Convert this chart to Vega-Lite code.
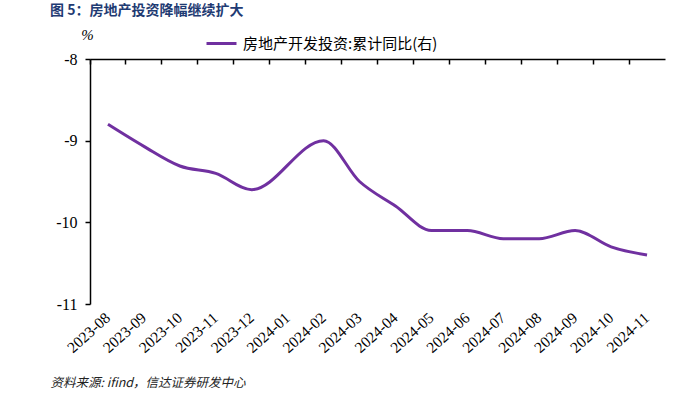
{
  "$schema": "https://vega.github.io/schema/vega-lite/v6.json",
  "width": 575,
  "height": 245,
  "autosize": {"type": "none"},
  "padding": {"left": 90, "top": 59, "right": 16, "bottom": 94},
  "title": {
    "text": "图 5：房地产投资降幅继续扩大",
    "anchor": "start",
    "frame": "group",
    "dx": -40,
    "offset": 9,
    "font": "Noto Sans CJK SC",
    "fontSize": 14,
    "fontWeight": "bold",
    "color": "#1F3B73"
  },
  "config": {
    "view": {"stroke": null},
    "font": "Times New Roman, Liberation Serif, serif"
  },
  "data": {
    "values": [
      {"month": "2023-08", "value": -8.8, "series": "房地产开发投资:累计同比(右)"},
      {"month": "2023-09", "value": -9.07, "series": "房地产开发投资:累计同比(右)"},
      {"month": "2023-10", "value": -9.31, "series": "房地产开发投资:累计同比(右)"},
      {"month": "2023-11", "value": -9.4, "series": "房地产开发投资:累计同比(右)"},
      {"month": "2023-12", "value": -9.6, "series": "房地产开发投资:累计同比(右)"},
      {"month": "2024-02", "value": -9.0, "series": "房地产开发投资:累计同比(右)"},
      {"month": "2024-03", "value": -9.5, "series": "房地产开发投资:累计同比(右)"},
      {"month": "2024-04", "value": -9.8, "series": "房地产开发投资:累计同比(右)"},
      {"month": "2024-05", "value": -10.1, "series": "房地产开发投资:累计同比(右)"},
      {"month": "2024-06", "value": -10.1, "series": "房地产开发投资:累计同比(右)"},
      {"month": "2024-07", "value": -10.2, "series": "房地产开发投资:累计同比(右)"},
      {"month": "2024-08", "value": -10.2, "series": "房地产开发投资:累计同比(右)"},
      {"month": "2024-09", "value": -10.1, "series": "房地产开发投资:累计同比(右)"},
      {"month": "2024-10", "value": -10.3, "series": "房地产开发投资:累计同比(右)"},
      {"month": "2024-11", "value": -10.4, "series": "房地产开发投资:累计同比(右)"}
    ]
  },
  "resolve": {"axis": {"x": "independent"}},
  "layer": [
    {
      "mark": {"type": "line", "interpolate": "monotone", "strokeWidth": 3},
      "encoding": {
        "x": {
          "field": "month",
          "type": "ordinal",
          "scale": {
            "type": "band",
            "paddingInner": 0,
            "paddingOuter": 0,
            "domain": ["2023-08","2023-09","2023-10","2023-11","2023-12","2024-01","2024-02","2024-03","2024-04","2024-05","2024-06","2024-07","2024-08","2024-09","2024-10","2024-11"]
          },
          "axis": {
            "orient": "bottom",
            "domain": false,
            "ticks": false,
            "labelAngle": -42,
            "labelAlign": "right",
            "labelBaseline": "middle",
            "labelFont": "Times New Roman, Liberation Serif, serif",
            "labelFontSize": 15.5,
            "labelColor": "#000",
            "labelPadding": 11,
            "offset": 0,
            "title": "资料来源: ifind，信达证券研发中心",
            "titleFont": "Noto Sans CJK SC",
            "titleFontSize": 12.5,
            "titleFontStyle": "italic",
            "titleFontWeight": "normal",
            "titleColor": "#222",
            "titleAlign": "left",
            "titleBaseline": "middle",
            "titleAngle": 0,
            "titleX": -40,
            "titleY": 78
          }
        },
        "y": {
          "field": "value",
          "type": "quantitative",
          "scale": {"domain": [-11, -8], "nice": false, "zero": false},
          "axis": {
            "values": [-8, -9, -10, -11],
            "labelExpr": "'-' + toString(abs(datum.value))",
            "grid": false,
            "domainColor": "#000",
            "domainWidth": 1.5,
            "tickColor": "#000",
            "tickSize": 5,
            "tickWidth": 1.5,
            "labelFont": "Times New Roman, Liberation Serif, serif",
            "labelFontSize": 16,
            "labelColor": "#000",
            "labelPadding": 8,
            "title": "%",
            "titleAngle": 0,
            "titleX": -3,
            "titleY": -25,
            "titleAlign": "center",
            "titleBaseline": "middle",
            "titleFont": "Times New Roman, Liberation Serif, serif",
            "titleFontSize": 15,
            "titleFontStyle": "italic",
            "titleFontWeight": "normal",
            "titleColor": "#000"
          }
        },
        "color": {
          "field": "series",
          "type": "nominal",
          "scale": {"range": ["#7030A0"]},
          "legend": {
            "orient": "none",
            "legendX": 115,
            "legendY": -32,
            "title": null,
            "padding": 0,
            "symbolType": "stroke",
            "symbolSize": 900,
            "symbolStrokeWidth": 3,
            "labelFont": "Noto Sans CJK SC",
            "labelFontSize": 15,
            "labelLimit": 0,
            "labelColor": "#000",
            "labelOffset": 5
          }
        }
      }
    },
    {
      "mark": {"type": "line", "strokeOpacity": 0},
      "encoding": {
        "x": {
          "field": "month",
          "type": "ordinal",
          "axis": {
            "orient": "top",
            "bandPosition": 0,
            "labels": false,
            "title": null,
            "domainColor": "#000",
            "domainWidth": 1.5,
            "tickColor": "#000",
            "tickWidth": 1.5,
            "tickSize": -5
          }
        },
        "y": {"field": "value", "type": "quantitative"}
      }
    }
  ]
}
